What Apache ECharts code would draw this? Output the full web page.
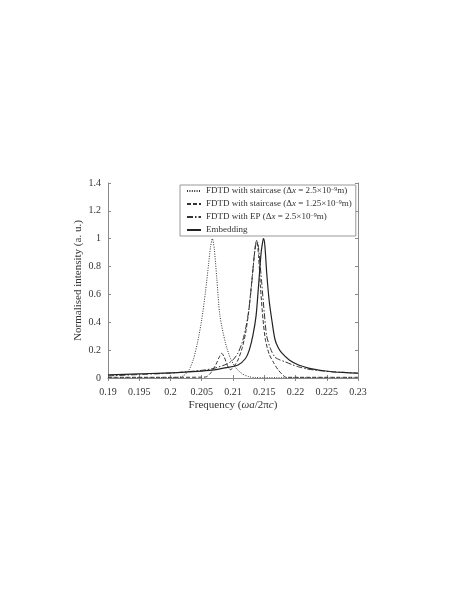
<!DOCTYPE html>
<html>
<head>
<meta charset="utf-8">
<script src="https://cdn.jsdelivr.net/npm/echarts@6/dist/echarts.min.js"></script>
<style>html,body{margin:0;padding:0;background:#fff;}#c{width:469px;height:607px;}</style>
</head>
<body>
<div id="c"></div>
<script>
// ---- data ----
const seriesNames = [
  'FDTD with staircase (dx=2.5e-9m)',
  'FDTD with staircase (dx=1.25e-9m)',
  'FDTD with EP (dx=2.5e-9m)',
  'Embedding'
];
const legendLabels = [
  'FDTD with staircase (Δ{it|x} = 2.5×10{sup|−9}m)',
  'FDTD with staircase (Δ{it|x} = 1.25×10{sup|−9}m)',
  'FDTD with EP (Δ{it|x} = 2.5×10{sup|−9}m)',
  'Embedding'
];
const xTicks = [0.19, 0.195, 0.2, 0.205, 0.21, 0.215, 0.22, 0.225, 0.23];
const yTicks = [0, 0.2, 0.4, 0.6, 0.8, 1, 1.2, 1.4];

// dotted: staircase 2.5e-9
const fDotted = [0.19, 0.195, 0.199, 0.2015, 0.2022, 0.2030, 0.2037, 0.2043, 0.2050, 0.2056, 0.2061, 0.2064, 0.2067, 0.2070, 0.2074, 0.2079, 0.2088, 0.2096, 0.2105, 0.2115, 0.2125, 0.2135, 0.215, 0.23];
const vDotted = [0.002, 0.002, 0.003, 0.006, 0.02, 0.06, 0.14, 0.25, 0.42, 0.62, 0.82, 0.94, 1.0, 0.93, 0.72, 0.45, 0.25, 0.14, 0.07, 0.03, 0.01, 0.003, 0.002, 0.002];

// dashed: staircase 1.25e-9
const fDashed = [0.19, 0.2, 0.205, 0.2058, 0.2065, 0.2073, 0.2078, 0.2082, 0.2086, 0.2092, 0.2096, 0.2101, 0.2108, 0.2115, 0.2120, 0.2125, 0.2129, 0.2133, 0.2136, 0.2138, 0.2141, 0.2144, 0.2148, 0.2152, 0.2158, 0.2165, 0.2172, 0.2180, 0.2185, 0.23];
const vDashed = [0.005, 0.005, 0.006, 0.01, 0.04, 0.10, 0.15, 0.177, 0.15, 0.08, 0.06, 0.08, 0.13, 0.22, 0.32, 0.47, 0.65, 0.83, 0.96, 0.99, 0.87, 0.65, 0.42, 0.27, 0.17, 0.11, 0.06, 0.02, 0.005, 0.005];

// dash-dot: EP 2.5e-9
const fEP = [0.19, 0.195, 0.2, 0.205, 0.207, 0.209, 0.21, 0.2108, 0.2115, 0.212, 0.2125, 0.213, 0.2134, 0.2137, 0.2139, 0.2142, 0.2146, 0.215, 0.2154, 0.216, 0.2167, 0.2175, 0.2183, 0.2195, 0.2205, 0.2218, 0.2231, 0.2245, 0.2258, 0.23];
const vEP = [0.015, 0.025, 0.035, 0.055, 0.07, 0.10, 0.13, 0.18, 0.26, 0.35, 0.48, 0.68, 0.88, 0.97, 0.98, 0.88, 0.68, 0.47, 0.30, 0.21, 0.15, 0.13, 0.117, 0.095, 0.08, 0.065, 0.057, 0.05, 0.045, 0.035];

// solid: Embedding
const fEmb = [0.19, 0.195, 0.2, 0.205, 0.207, 0.209, 0.2108, 0.212, 0.2126, 0.2132, 0.2137, 0.2141, 0.2145, 0.2148, 0.2149, 0.2151, 0.2154, 0.2158, 0.2162, 0.2167, 0.2172, 0.2178, 0.219, 0.2205, 0.2218, 0.2231, 0.2245, 0.2258, 0.2275, 0.23];
const vEmb = [0.022, 0.03, 0.037, 0.05, 0.058, 0.075, 0.093, 0.14, 0.2, 0.31, 0.45, 0.67, 0.9, 0.99, 1.0, 0.95, 0.75, 0.55, 0.42, 0.28, 0.22, 0.18, 0.13, 0.093, 0.075, 0.062, 0.052, 0.045, 0.04, 0.034];

const zip = (f, v) => f.map((x, i) => [x, v[i]]);
const serif = '"Liberation Serif", "DejaVu Serif", serif';
const axisColor = '#8a8a8a';
const textColor = '#333';

const chart = echarts.init(document.getElementById('c'), null, {renderer: 'canvas'});
const commonX = {
  type: 'value', min: xTicks[0], max: xTicks[xTicks.length - 1], interval: 0.005,
  axisLine: {show: true, lineStyle: {color: axisColor, width: 1}},
  axisTick: {show: true, inside: true, length: 3, lineStyle: {color: axisColor}},
  splitLine: {show: false}
};
const commonY = {
  type: 'value', min: yTicks[0], max: yTicks[yTicks.length - 1], interval: 0.2,
  axisLine: {show: true, lineStyle: {color: axisColor, width: 1}},
  axisTick: {show: true, inside: true, length: 3, lineStyle: {color: axisColor}},
  splitLine: {show: false}
};
const styles = [
  {type: [1, 1.4], width: 1, color: '#333'},
  {type: [4, 2], width: 1, color: '#333'},
  {type: [6, 2, 1.5, 2], width: 1, color: '#333'},
  {type: 'solid', width: 1.2, color: '#222'}
];
const datas = [zip(fDotted, vDotted), zip(fDashed, vDashed), zip(fEP, vEP), zip(fEmb, vEmb)];

chart.setOption({
  backgroundColor: '#fff',
  animation: false,
  grid: {left: 108, right: 111, top: 183, bottom: 229},
  legend: {
    orient: 'vertical', left: 180, top: 185, align: 'left',
    data: seriesNames,
    formatter: name => legendLabels[seriesNames.indexOf(name)],
    itemWidth: 14, itemHeight: 8, itemGap: 2,
    itemStyle: {opacity: 0},
    padding: [1, 4, 1, 6],
    borderColor: '#999', borderWidth: 1, borderRadius: 0,
    backgroundColor: '#fff',
    textStyle: {
      fontFamily: serif, fontSize: 9, color: textColor, lineHeight: 10,
      rich: {
        it: {fontFamily: serif, fontSize: 9, fontStyle: 'italic', color: textColor},
        sup: {fontFamily: serif, fontSize: 6, color: textColor, verticalAlign: 'top', lineHeight: 6, padding: [0, 0, 5, 0]}
      }
    }
  },
  xAxis: [
    Object.assign({}, commonX, {
      position: 'bottom',
      axisLabel: {fontFamily: serif, fontSize: 10, color: textColor, margin: 9,
        formatter: v => String(+v.toFixed(3))},
      name: 'Frequency ({it|ωa}/2π{it|c})', nameLocation: 'middle', nameGap: 22,
      nameMoveOverlap: false,
      nameTextStyle: {fontFamily: serif, fontSize: 11, color: textColor,
        rich: {it: {fontFamily: serif, fontSize: 11, fontStyle: 'italic', color: textColor}}}
    }),
    Object.assign({}, commonX, {position: 'top', axisLabel: {show: false}})
  ],
  yAxis: [
    Object.assign({}, commonY, {
      position: 'left',
      axisLabel: {fontFamily: serif, fontSize: 10, color: textColor, margin: 7,
        formatter: v => String(+v.toFixed(1))},
      name: 'Normalised intensity (a. u.)', nameLocation: 'middle', nameGap: 24,
      nameMoveOverlap: false,
      nameTextStyle: {fontFamily: serif, fontSize: 11, color: textColor}
    }),
    Object.assign({}, commonY, {position: 'right', axisLabel: {show: false}})
  ],
  series: seriesNames.map((n, i) => ({
    name: n, type: 'line', data: datas[i], symbol: 'none', showSymbol: false,
    smooth: 0.25, lineStyle: styles[i], itemStyle: {color: styles[i].color},
    xAxisIndex: 0, yAxisIndex: 0, z: 2 + i
  }))
});
</script>
</body>
</html>
